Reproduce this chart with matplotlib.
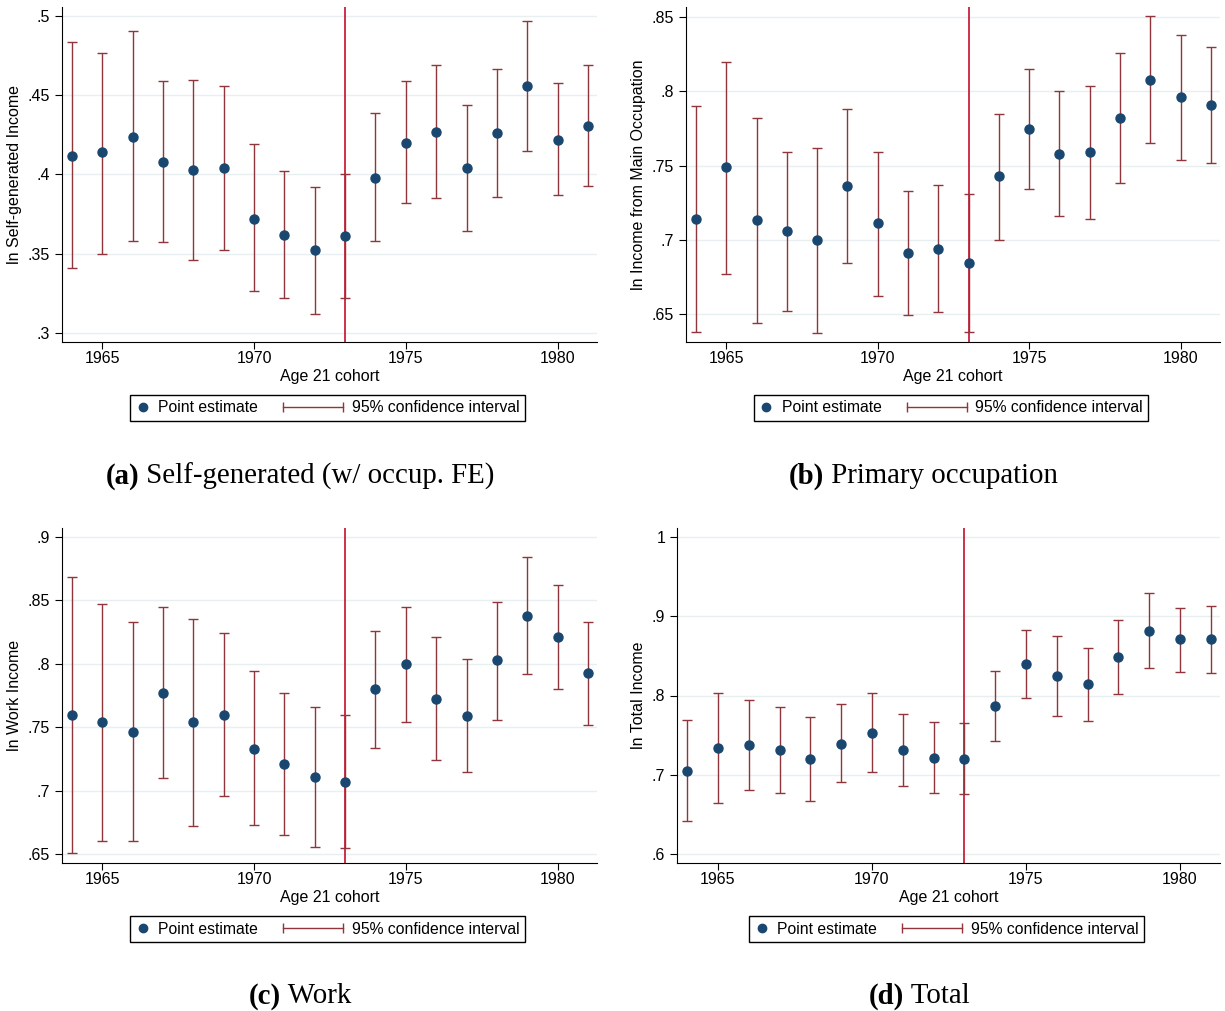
"""Cohort estimates of log income, four panels in Stata style."""
import matplotlib
matplotlib.use("Agg")
import matplotlib.pyplot as plt
from matplotlib.lines import Line2D
from matplotlib.legend_handler import HandlerBase, HandlerLine2D
from matplotlib.ticker import FuncFormatter

plt.rcParams["font.family"] = ["Liberation Sans", "DejaVu Sans"]

NAVY = "#1a476f"
MAROON = "#90353b"
VLINE = "#c8203e"
GRID = "#e8eff1"

years = list(range(1964, 1982))

# ----- panel values -------------------------------------------------------

self_pt = [0.412, 0.414, 0.424, 0.408, 0.403, 0.404, 0.372, 0.362, 0.352,
           0.361, 0.398, 0.420, 0.427, 0.404, 0.426, 0.456, 0.422, 0.431]
self_hi = [0.484, 0.477, 0.491, 0.459, 0.460, 0.456, 0.419, 0.402, 0.392,
           0.400, 0.439, 0.459, 0.469, 0.444, 0.467, 0.497, 0.458, 0.469]
self_lo = [0.341, 0.350, 0.358, 0.357, 0.346, 0.352, 0.326, 0.322, 0.312,
           0.322, 0.358, 0.382, 0.385, 0.364, 0.386, 0.415, 0.387, 0.393]

main_pt = [0.714, 0.749, 0.713, 0.706, 0.700, 0.736, 0.711, 0.691, 0.694,
           0.684, 0.743, 0.775, 0.758, 0.759, 0.782, 0.808, 0.796, 0.791]
main_hi = [0.790, 0.820, 0.782, 0.759, 0.762, 0.788, 0.759, 0.733, 0.737,
           0.731, 0.785, 0.815, 0.800, 0.804, 0.826, 0.851, 0.838, 0.830]
main_lo = [0.638, 0.677, 0.644, 0.652, 0.637, 0.684, 0.662, 0.649, 0.651,
           0.638, 0.700, 0.734, 0.716, 0.714, 0.738, 0.765, 0.754, 0.752]

work_pt = [0.760, 0.754, 0.746, 0.777, 0.754, 0.760, 0.733, 0.721, 0.711,
           0.707, 0.780, 0.800, 0.772, 0.759, 0.803, 0.838, 0.821, 0.793]
work_hi = [0.868, 0.847, 0.833, 0.845, 0.835, 0.824, 0.794, 0.777, 0.766,
           0.760, 0.826, 0.845, 0.821, 0.804, 0.849, 0.884, 0.862, 0.833]
work_lo = [0.651, 0.660, 0.660, 0.710, 0.672, 0.696, 0.673, 0.665, 0.656,
           0.655, 0.734, 0.754, 0.724, 0.715, 0.756, 0.792, 0.780, 0.752]

total_pt = [0.705, 0.733, 0.737, 0.731, 0.720, 0.739, 0.752, 0.731, 0.721,
            0.720, 0.787, 0.840, 0.825, 0.814, 0.849, 0.882, 0.871, 0.871]
total_hi = [0.769, 0.803, 0.794, 0.786, 0.773, 0.789, 0.803, 0.777, 0.766,
            0.765, 0.831, 0.883, 0.875, 0.860, 0.896, 0.930, 0.911, 0.913]
total_lo = [0.641, 0.664, 0.681, 0.677, 0.667, 0.690, 0.703, 0.686, 0.677,
            0.675, 0.743, 0.797, 0.774, 0.768, 0.802, 0.835, 0.830, 0.828]

panels = [
    dict(pt=self_pt, hi=self_hi, lo=self_lo,
         ylabel="ln Self-generated Income",
         yticks=[0.3, 0.35, 0.4, 0.45, 0.5], ylim=(0.294, 0.506),
         rect=(62, 7, 597, 342), tag="(a)",
         caption=" Self-generated (w/ occup. FE)"),
    dict(pt=main_pt, hi=main_hi, lo=main_lo,
         ylabel="ln Income from Main Occupation",
         yticks=[0.65, 0.7, 0.75, 0.8, 0.85], ylim=(0.631, 0.857),
         rect=(686, 7, 1220, 342), tag="(b)",
         caption=" Primary occupation"),
    dict(pt=work_pt, hi=work_hi, lo=work_lo,
         ylabel="ln Work Income",
         yticks=[0.65, 0.7, 0.75, 0.8, 0.85, 0.9], ylim=(0.643, 0.907),
         rect=(62, 528, 597, 863), tag="(c)", caption=" Work"),
    dict(pt=total_pt, hi=total_hi, lo=total_lo,
         ylabel="ln Total Income",
         yticks=[0.6, 0.7, 0.8, 0.9, 1.0], ylim=(0.588, 1.012),
         rect=(677, 528, 1220, 863), tag="(d)", caption=" Total"),
]

W, H = 1225, 1011


def stata_fmt(v, _pos=None):
    s = f"{v:.2f}".rstrip("0").rstrip(".")
    if s.startswith("0."):
        s = s[1:]
    return s


class CIHandler(HandlerBase):
    """Capped horizontal bar that reaches left past its (short) handle box."""

    def create_artists(self, legend, orig_handle, xdescent, ydescent,
                       width, height, fontsize, trans):
        y = height / 2 - ydescent
        x0 = -xdescent - 2.9 * fontsize
        x1 = -xdescent + width
        bar = Line2D([x0, x1], [y, y], color=MAROON, lw=1.0)
        caps = Line2D([x0, x1], [y, y], ls="none", marker="|", ms=7,
                      mew=1.0, color=MAROON)
        bar.set_transform(trans)
        caps.set_transform(trans)
        return [bar, caps]


def draw_caption(fig, cx, cy, tag, rest):
    r = fig.canvas.get_renderer()
    kw = dict(family=["Liberation Serif", "DejaVu Serif"], fontsize=20.8,
              va="center", ha="left")
    t1 = fig.text(0, cy, tag, weight="bold", **kw)
    t2 = fig.text(0, cy, rest, **kw)
    w1 = t1.get_window_extent(r).width / W
    w2 = t2.get_window_extent(r).width / W
    x0 = cx - (w1 + w2) / 2
    t1.set_x(x0)
    t2.set_x(x0 + w1)


fig = plt.figure(figsize=(W / 100, H / 100), dpi=100)

for p in panels:
    l, t, rgt, b = p["rect"]
    ax = fig.add_axes([l / W, 1 - b / H, (rgt - l) / W, (b - t) / H])
    for s in ("top", "right"):
        ax.spines[s].set_visible(False)
    ax.set_xlim(1963.67, 1981.3)
    ax.set_ylim(*p["ylim"])
    ax.set_xticks([1965, 1970, 1975, 1980])
    ax.set_yticks(p["yticks"])
    ax.yaxis.set_major_formatter(FuncFormatter(stata_fmt))
    ax.tick_params(labelsize=11.5, length=5, width=0.8)
    ax.tick_params(axis="x", pad=1.5)
    ax.grid(axis="y", color=GRID, lw=1.0)
    ax.set_axisbelow(True)

    ax.axvline(1973, color=VLINE, lw=1.3, zorder=1.5)
    ax.errorbar(years, p["pt"],
                yerr=[[m - lo for m, lo in zip(p["pt"], p["lo"])],
                      [hi - m for m, hi in zip(p["pt"], p["hi"])]],
                fmt="none", ecolor=MAROON, elinewidth=1.0, capsize=3.5,
                capthick=1.0, zorder=2)
    ax.plot(years, p["pt"], "o", color=NAVY, ms=6.5, zorder=3)

    ax.set_xlabel("Age 21 cohort", fontsize=11.5, labelpad=2)
    ax.set_ylabel(p["ylabel"], fontsize=11.5, labelpad=4)

    pt_h = Line2D([], [], marker="o", color=NAVY, ls="none", ms=6)
    ci_h = Line2D([], [], color=MAROON)
    cx = (l + rgt) / 2 / W
    leg_y = 1 - (408 if t < 100 else 929) / H
    leg = ax.legend([pt_h, ci_h], ["Point estimate", "95% confidence interval"],
                    ncol=2, loc="center", bbox_to_anchor=(cx - 2 / W, leg_y),
                    bbox_transform=fig.transFigure, fontsize=11.3,
                    fancybox=False, edgecolor="black", framealpha=1,
                    borderpad=0.35, handlelength=0.9, columnspacing=4.5,
                    handletextpad=0.55,
                    handler_map={ci_h: CIHandler(),
                                 pt_h: HandlerLine2D(numpoints=1)})
    leg.get_frame().set_linewidth(1.0)

    cap_y = 1 - (476 if t < 100 else 996) / H
    draw_caption(fig, cx - 29.5 / W, cap_y, p["tag"], p["caption"])

fig.savefig("out.png", dpi=100)
